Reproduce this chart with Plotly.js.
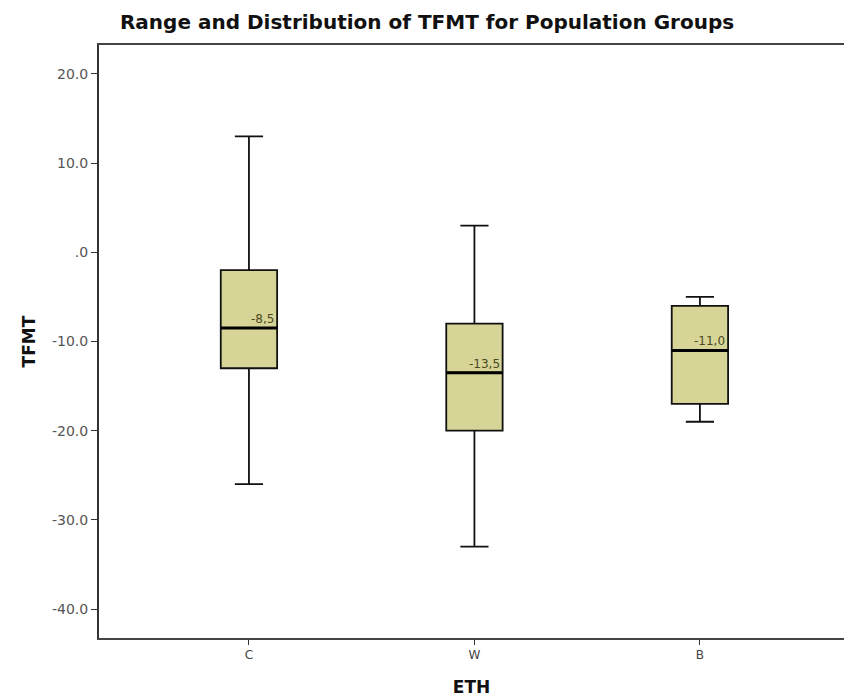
<!DOCTYPE html>
<html>
<head>
<meta charset="utf-8">
<script src="https://cdn.plot.ly/plotly-3.0.1.min.js"></script>
<style>html,body{margin:0;padding:0;background:#fff;overflow:hidden;}</style>
</head>
<body>
<div id="chart" style="width:844px;height:700px;"></div>
<script>
const categories = ["C", "W", "B"];
const upperWhisker = [13.0, 3.0, -5.0];
const q3Values = [-2.0, -8.0, -6.0];
const medianValues = [-8.5, -13.5, -11.0];
const q1Values = [-13.0, -20.0, -17.0];
const lowerWhisker = [-26.0, -33.0, -19.0];
const medianLabels = ["-8,5", "-13,5", "-11,0"];
const yTickVals = [20, 10, 0, -10, -20, -30, -40];
const yTickText = ["20.0", "10.0", ".0", "-10.0", "-20.0", "-30.0", "-40.0"];

const positions = categories.map((c, i) => i);
const boxWidth = 0.25;

const traces = [{
  type: "box",
  x: positions,
  q1: q1Values,
  median: medianValues,
  q3: q3Values,
  lowerfence: lowerWhisker,
  upperfence: upperWhisker,
  width: boxWidth,
  whiskerwidth: 0.5,
  fillcolor: "rgb(214,212,150)",
  line: {color: "#111", width: 1.8},
  hoverinfo: "skip",
  showlegend: false
}];

positions.forEach((p, i) => {
  traces.push({
    type: "scatter",
    mode: "lines",
    x: [p - boxWidth / 2, p + boxWidth / 2],
    y: [medianValues[i], medianValues[i]],
    line: {color: "#000", width: 3},
    hoverinfo: "skip",
    showlegend: false
  });
});

const annotations = positions.map((p, i) => ({
  x: p + boxWidth / 2,
  y: medianValues[i],
  xref: "x", yref: "y",
  text: medianLabels[i],
  showarrow: false,
  xanchor: "right",
  yanchor: "bottom",
  xshift: -1,
  yshift: 0,
  font: {family: "DejaVu Sans, sans-serif", size: 12, color: "#4a4a1e"}
}));

const layout = {
  width: 844, height: 700,
  margin: {l: 99, r: 0, t: 45, b: 62},
  paper_bgcolor: "#fff",
  plot_bgcolor: "#fff",
  title: {
    text: "<b>Range and Distribution of TFMT for Population Groups</b>",
    font: {family: "DejaVu Sans, sans-serif", size: 20, color: "#111"},
    x: 0.506, xanchor: "center", y: 0.968, yanchor: "middle"
  },
  xaxis: {
    range: [-0.665, 2.639],
    tickvals: positions,
    ticktext: categories,
    showline: true, linecolor: "#444", linewidth: 2, mirror: true,
    ticks: "outside", ticklen: 5, tickcolor: "#333", tickwidth: 1,
    showgrid: false, zeroline: false,
    tickfont: {family: "DejaVu Sans, sans-serif", size: 12, color: "#444"},
    title: {text: "<b>ETH</b>", font: {family: "DejaVu Sans, sans-serif", size: 17, color: "#111"}, standoff: 20}
  },
  yaxis: {
    range: [-43.25, 23.25],
    tickvals: yTickVals,
    ticktext: yTickText,
    showline: true, linecolor: "#333", linewidth: 2, mirror: false,
    ticks: "outside", ticklen: 6, tickcolor: "#333", tickwidth: 1,
    showgrid: false, zeroline: false,
    tickfont: {family: "DejaVu Sans, sans-serif", size: 14, color: "#555"},
    title: {text: "<b>TFMT</b>", font: {family: "DejaVu Sans, sans-serif", size: 17, color: "#111"}, standoff: 12}
  },
  annotations: annotations
};

Plotly.newPlot("chart", traces, layout, {displayModeBar: false, staticPlot: true});
</script>
</body>
</html>
